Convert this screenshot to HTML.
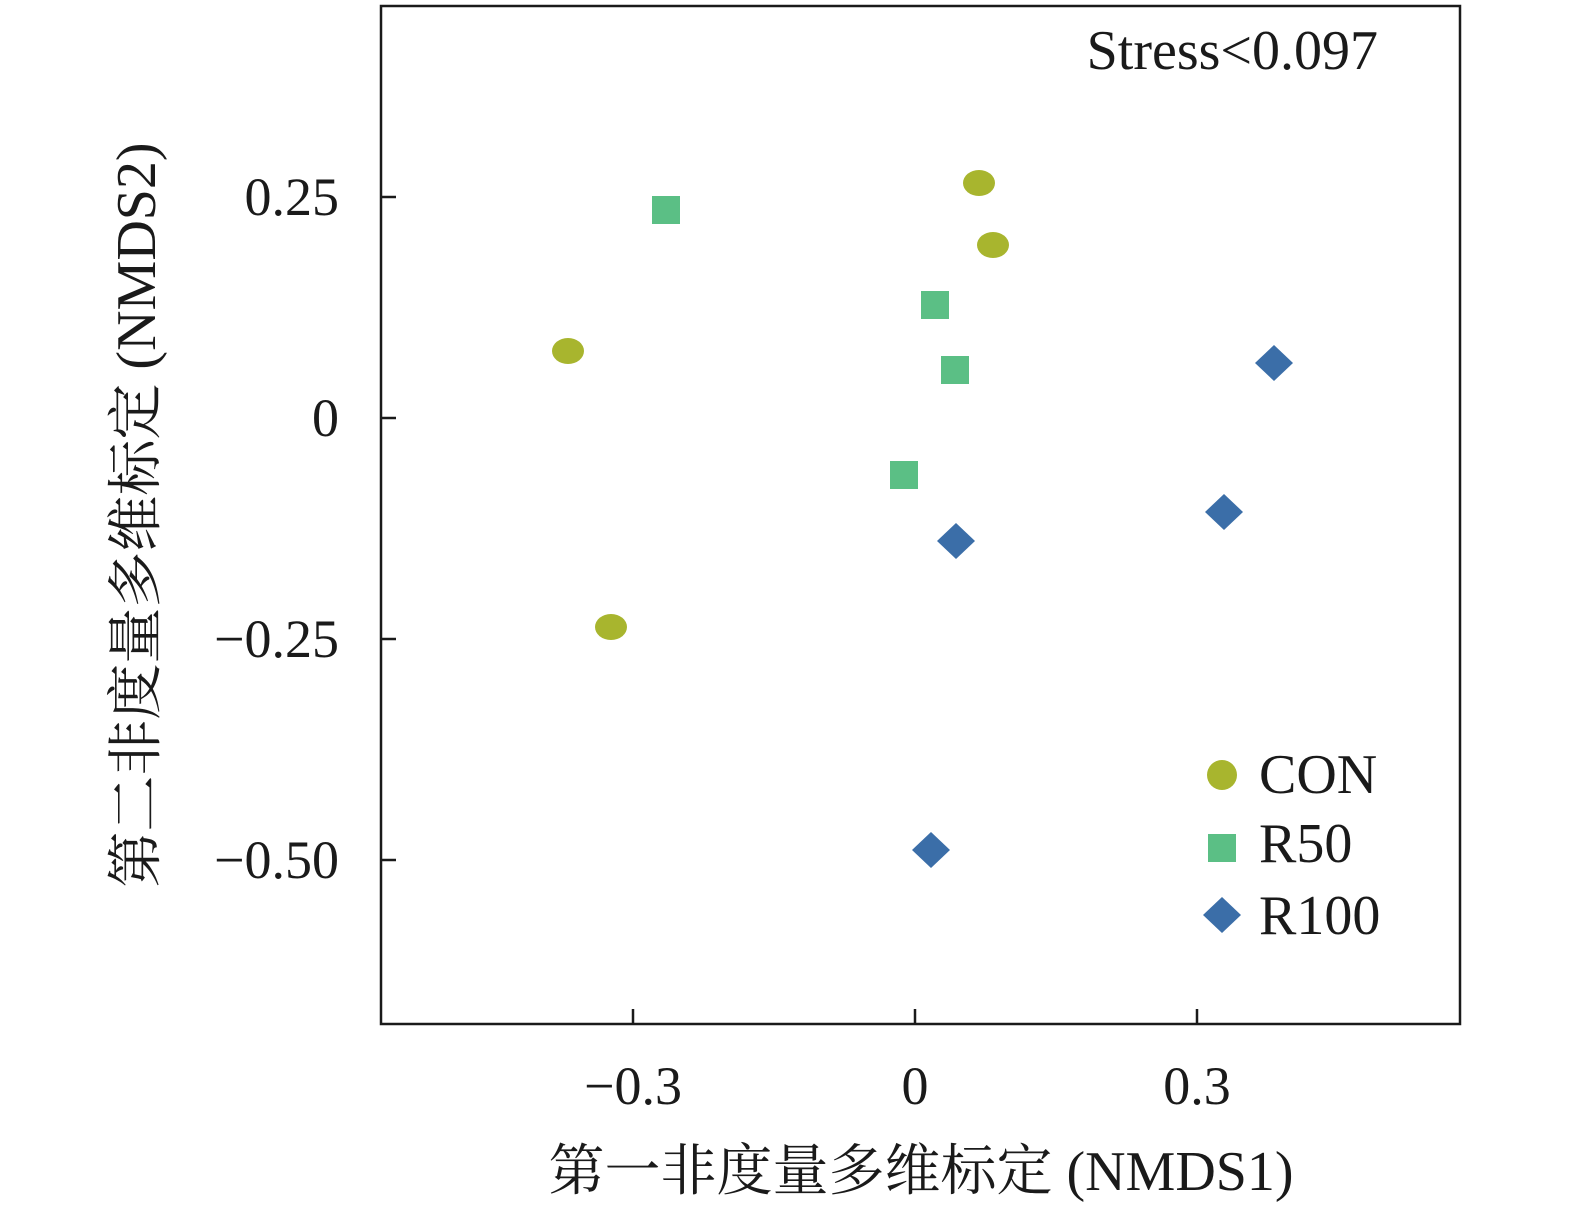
<!DOCTYPE html>
<html><head><meta charset="utf-8"><style>
html,body{margin:0;padding:0;background:#fff;}
</style></head><body>
<svg width="1575" height="1217" xmlns="http://www.w3.org/2000/svg" font-family="Liberation Serif, Noto Serif CJK SC, serif" fill="#1a1a1a">
<rect x="381" y="6" width="1079" height="1018" fill="none" stroke="#1a1a1a" stroke-width="2.5"/>
<g stroke="#1a1a1a" stroke-width="2.5">
<line x1="381" y1="197" x2="396" y2="197"/><line x1="381" y1="418" x2="396" y2="418"/>
<line x1="381" y1="639" x2="396" y2="639"/><line x1="381" y1="860" x2="396" y2="860"/>
<line x1="633" y1="1024" x2="633" y2="1009"/><line x1="915" y1="1024" x2="915" y2="1009"/>
<line x1="1197" y1="1024" x2="1197" y2="1009"/>
</g>
<g font-size="54" text-anchor="end">
<text x="339" y="215">0.25</text><text x="339" y="436">0</text>
<text x="339" y="657">−0.25</text><text x="339" y="878">−0.50</text>
</g>
<g font-size="54" text-anchor="middle">
<text x="633" y="1104">−0.3</text><text x="915" y="1104">0</text><text x="1197" y="1104">0.3</text>
</g>
<text x="921" y="1190" font-size="56" text-anchor="middle">第一非度量多维标定 (NMDS1)</text>
<text transform="translate(155,515) rotate(-90)" font-size="56" text-anchor="middle">第二非度量多维标定 (NMDS2)</text>
<text x="1378" y="69" font-size="56" text-anchor="end">Stress&lt;0.097</text>
<g fill="#a8b52e">
<ellipse cx="979" cy="183" rx="16" ry="13"/><ellipse cx="993" cy="245" rx="16" ry="13"/>
<ellipse cx="568" cy="351" rx="16" ry="13"/><ellipse cx="611" cy="627" rx="16" ry="13"/>
<ellipse cx="1222" cy="775" rx="15" ry="15"/>
</g>
<g fill="#5bbf85">
<rect x="652" y="196" width="28" height="28"/><rect x="921" y="291" width="28" height="28"/>
<rect x="941" y="356" width="28" height="28"/><rect x="890" y="461" width="28" height="28"/>
<rect x="1208" y="834" width="28" height="28"/>
</g>
<g fill="#3b6ea8">
<polygon points="1274,345 1293,363 1274,381 1255,363"/>
<polygon points="1224,494 1243,512 1224,530 1205,512"/>
<polygon points="956,523 975,541 956,559 937,541"/>
<polygon points="931,832 950,850 931,868 912,850"/>
<polygon points="1222,897 1241,915 1222,933 1203,915"/>
</g>
<g font-size="56">
<text x="1259" y="793">CON</text><text x="1259" y="862">R50</text><text x="1259" y="934">R100</text>
</g>
</svg>
</body></html>
